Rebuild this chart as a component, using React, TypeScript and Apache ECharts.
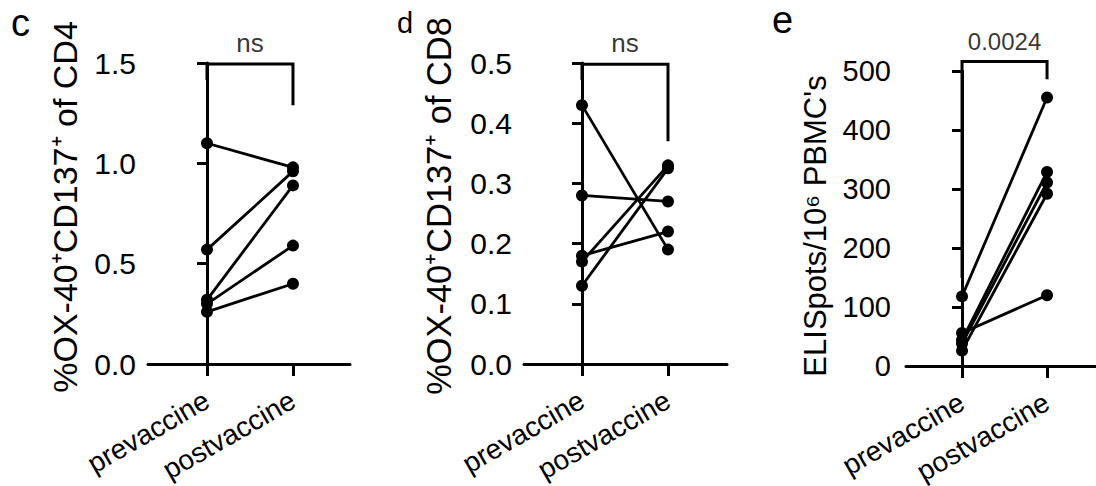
import React, { useEffect, useRef } from "react";
import * as echarts from "echarts";

const FONT = "Liberation Sans, Arial, Helvetica, sans-serif";

// categories (x positions 0 and 1)
const categories = ["prevaccine", "postvaccine"];

// Panel c: %OX-40+CD137+ of CD4
const cPre = [1.1, 0.57, 0.32, 0.3, 0.26];
const cPost = [0.98, 0.96, 0.89, 0.59, 0.4];
const cTicks = { min: 0, max: 1.5, interval: 0.5 };
const cBracket = [1.415, 1.495, 1.29]; // left leg bottom, top, right leg bottom
const cStat = "ns";
const cTitle = "%OX-40\u207ACD137\u207A of CD4";

// Panel d: %OX-40+CD137+ of CD8
const dPre = [0.43, 0.28, 0.18, 0.17, 0.13];
const dPost = [0.19, 0.27, 0.22, 0.33, 0.325];
const dTicks = { min: 0, max: 0.5, interval: 0.1 };
const dBracket = [0.472, 0.498, 0.37];
const dStat = "ns";
const dTitle = "%OX-40\u207ACD137\u207A of CD8";

// Panel e: ELISpots/10^6 PBMC's
const ePre = [118, 56, 44, 38, 26];
const ePost = [455, 120, 329, 311, 292];
const eTicks = { min: 0, max: 500, interval: 100 };
const eBracket = [149, 516, 486];
const eStat = "0.0024";
const eTitle = "ELISpots/10\u2076 PBMC's";

type Panel = {
  pre: number[];
  post: number[];
  ticks: { min: number; max: number; interval: number };
  bracket: number[];
  stat: string;
  statFont: number;
  title: string;
  titleX: number;
  titleY: number;
  nameFont: number;
  tickFont: number;
  tickMargin: number;
  decimals: number;
  grid: { left: number; top: number; width: number; height: number };
  xmin: number;
  xmax: number;
};

const panels: Panel[] = [
  {
    pre: cPre, post: cPost, ticks: cTicks, bracket: cBracket, stat: cStat, statFont: 26,
    title: cTitle, titleX: 65, titleY: 207, nameFont: 34, tickFont: 30, tickMargin: 12, decimals: 1,
    grid: { left: 148, top: 63, width: 202, height: 301 },
    xmin: -0.686, xmax: 1.663,
  },
  {
    pre: dPre, post: dPost, ticks: dTicks, bracket: dBracket, stat: dStat, statFont: 26,
    title: dTitle, titleX: 439, titleY: 206, nameFont: 34.4, tickFont: 30, tickMargin: 12, decimals: 1,
    grid: { left: 524, top: 63, width: 203, height: 301 },
    xmin: -0.674, xmax: 1.686,
  },
  {
    pre: ePre, post: ePost, ticks: eTicks, bracket: eBracket, stat: eStat, statFont: 24,
    title: eTitle, titleX: 815, titleY: 226, nameFont: 31, tickFont: 29, tickMargin: 15, decimals: 0,
    grid: { left: 906, top: 71, width: 202, height: 295 },
    xmin: -0.659, xmax: 1.717,
  },
];

const letters = [
  { t: "c", x: 11, y: 4, size: 38 },
  { t: "d", x: 397, y: 8, size: 29 },
  { t: "e", x: 772, y: 1, size: 38 },
];

export default function App() {
  const ref = useRef<HTMLDivElement>(null);
  useEffect(() => {
    if (!ref.current) return;
    const chart = echarts.init(ref.current, undefined, { renderer: "svg" });
    const grid: any[] = [];
    const xAxis: any[] = [];
    const yAxis: any[] = [];
    const series: any[] = [];
    const graphic: any[] = [];
    panels.forEach((p, i) => {
      grid.push({ ...p.grid, containLabel: false, outerBoundsMode: "none" });
      xAxis.push({
        type: "value",
        gridIndex: i,
        min: p.xmin,
        max: p.xmax,
        axisLine: { show: true, onZero: false, lineStyle: { color: "#000", width: 3 } },
        axisTick: { show: true, customValues: [0, 1], length: 12, lineStyle: { color: "#000", width: 3 } },
        axisLabel: {
          show: true,
          customValues: [0, 1],
          formatter: (v: number) => categories[Math.round(v)] ?? "",
          rotate: 30,
          margin: 34,
          color: "#000",
          fontSize: 28,
          fontFamily: FONT,
        },
        splitLine: { show: false },
      });
      yAxis.push({
        type: "value",
        gridIndex: i,
        min: p.ticks.min,
        max: p.ticks.max,
        interval: p.ticks.interval,
        axisLine: { show: true, lineStyle: { color: "#000", width: 3 } },
        axisTick: { show: true, length: 10, lineStyle: { color: "#000", width: 3 } },
        axisLabel: {
          color: "#000",
          fontSize: p.tickFont,
          fontFamily: FONT,
          margin: p.tickMargin,
          formatter: (v: number) => v.toFixed(p.decimals),
        },
        splitLine: { show: false },
      });
      p.pre.forEach((v, k) => {
        series.push({
          type: "line",
          xAxisIndex: i,
          yAxisIndex: i,
          data: [[0, v], [1, p.post[k]]],
          symbol: "circle",
          symbolSize: 12,
          itemStyle: { color: "#000" },
          lineStyle: { color: "#000", width: 2.8 },
          clip: false,
          silent: true,
        });
      });
      series.push({
        type: "line",
        xAxisIndex: i,
        yAxisIndex: i,
        data: [[0, p.bracket[0]], [0, p.bracket[1]], [1, p.bracket[1]], [1, p.bracket[2]]],
        symbol: "none",
        lineStyle: { color: "#000", width: 3, cap: "butt", join: "miter" },
        clip: false,
        silent: true,
      });
      series.push({
        type: "scatter",
        xAxisIndex: i,
        yAxisIndex: i,
        data: [[0.5, p.bracket[1]]],
        symbolSize: 0,
        clip: false,
        silent: true,
        label: {
          show: true,
          position: "top",
          distance: 8,
          formatter: p.stat,
          color: "#000",
          fontSize: p.statFont,
          fontFamily: FONT,
        },
      });
      graphic.push({
        type: "text",
        x: p.titleX,
        y: p.titleY,
        rotation: Math.PI / 2,
        style: {
          text: p.title,
          fill: "#000",
          fontSize: p.nameFont,
          fontFamily: FONT,
          align: "center",
          verticalAlign: "middle",
        },
      });
    });
    letters.forEach((l) => {
      graphic.push({
        type: "text",
        x: l.x,
        y: l.y,
        style: {
          text: l.t,
          fontSize: l.size,
          fontFamily: FONT,
          fill: "#000",
          verticalAlign: "top",
        },
      });
    });
    chart.setOption({
      animation: false,
      backgroundColor: "#fff",
      grid,
      xAxis,
      yAxis,
      series,
      graphic,
    });
    return () => chart.dispose();
  }, []);
  return (
    <div
      ref={ref}
      style={{ position: "fixed", left: 0, top: 0, width: 1096, height: 486, background: "#fff" }}
    />
  );
}
